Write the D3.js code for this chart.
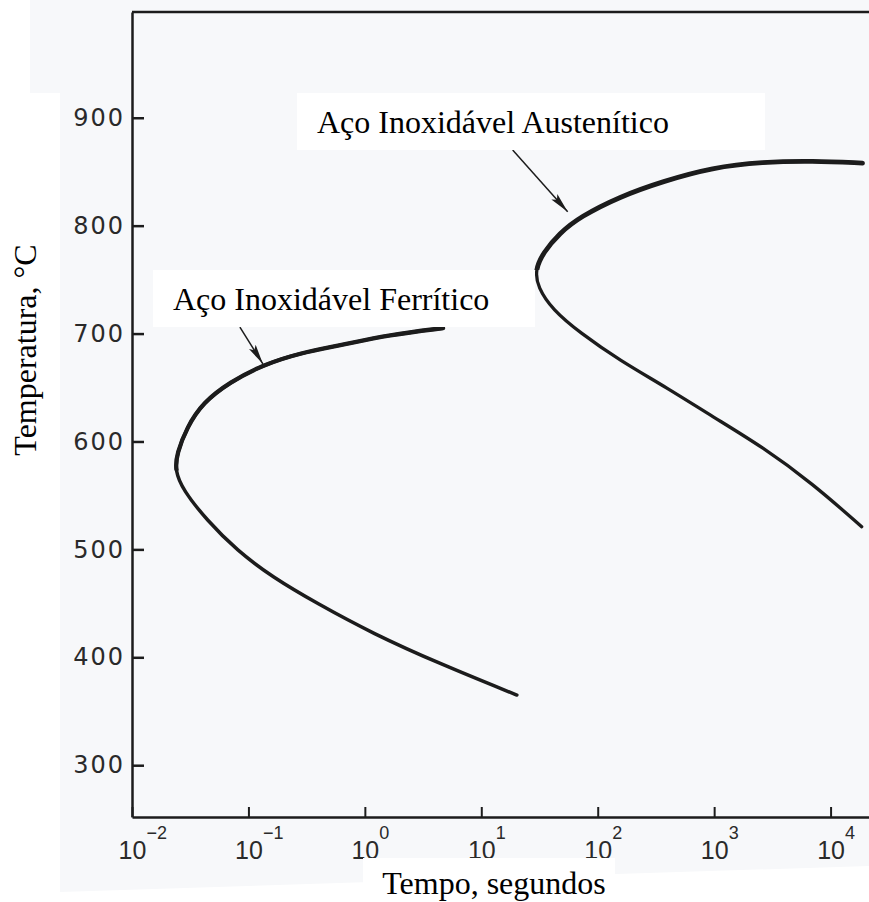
<!DOCTYPE html>
<html>
<head>
<meta charset="utf-8">
<script src="https://cdn.jsdelivr.net/npm/d3@7"></script>
<style>
  body { margin: 0; background: #fff; }
  svg { display: block; }
</style>
</head>
<body>
<svg id="chart" width="869" height="902"></svg>
<script>
// ferritic stainless steel C-curve (time s, temperature C)
const ferriticTime = [4.7, 1.64, 0.61, 0.277, 0.133, 0.0693, 0.0406, 0.0296, 0.0243, 0.0234,
  0.0274, 0.044, 0.0796, 0.162, 0.387, 1.17, 4.4, 20.2]
const ferriticTemp = [705, 699, 689, 682, 671, 655, 636, 613, 589, 573,
  555, 527, 499, 474, 450, 422, 394, 365]

// austenitic stainless steel C-curve
const austeniticTime = [18800, 7000, 2600, 970, 360, 155, 70, 47, 34, 29,
  30.5, 41, 70, 155, 390, 970, 2600, 7000, 18500]
const austeniticTemp = [858, 860, 859, 854, 841, 827, 808, 793, 775, 759,
  743, 722, 701, 675, 650, 623, 595, 561, 521]

const yTicks = [300, 400, 500, 600, 700, 800, 900]
const xTicks = [1e-2, 1e-1, 1e0, 1e1, 1e2, 1e3, 1e4]
const xExponents = ["\u22122", "\u22121", "0", "1", "2", "3", "4"]

const svg = d3.select("#chart")

// scanned page tint
svg.append("path")
  .attr("d", "M30,0 L869,0 L869,866 L60,892 L60,93 L30,93 Z")
  .attr("fill", "#f7f8fa")

const x = d3.scaleLog()
  .domain([1e-2, Math.pow(10, 4.33)])
  .range([132, 869])

const y = d3.scaleLinear()
  .domain([252, 998])
  .range([817, 12])

const ink = "#1c1c1c"

// frame: left, bottom and top
svg.append("g")
  .attr("transform", `translate(${x(1e-2)},0)`)
  .call(d3.axisLeft(y).tickValues(yTicks).tickSize(-12).tickPadding(7).tickSizeOuter(0))
  .call(g => g.select(".domain").attr("stroke", ink).attr("stroke-width", 2.5))
  .call(g => g.selectAll(".tick line").attr("stroke", ink).attr("stroke-width", 2.5))
  .call(g => g.selectAll(".tick text")
    .attr("font-family", "DejaVu Sans")
    .attr("font-size", 24)
    .attr("letter-spacing", 2)
    .attr("fill", "#2a2a2a"))

const xAxis = svg.append("g")
  .attr("transform", `translate(0,${y(252)})`)
  .call(d3.axisBottom(x).tickValues(xTicks).tickSize(-10).tickFormat("").tickSizeOuter(0))
  .call(g => g.select(".domain").attr("stroke", ink).attr("stroke-width", 2.5))
  .call(g => g.selectAll(".tick line").attr("stroke", ink).attr("stroke-width", 2))

xAxis.selectAll(".tick").each(function(d, i) {
  const t = d3.select(this)
  t.append("text")
    .attr("x", 0).attr("y", 42)
    .attr("text-anchor", "middle")
    .attr("font-family", "Liberation Sans").attr("font-size", 25)
    .attr("fill", "#2a2a2a")
    .text("10")
  t.append("text")
    .attr("x", 14).attr("y", 22)
    .attr("text-anchor", "start")
    .attr("font-family", "Liberation Sans").attr("font-size", 18)
    .attr("fill", "#2a2a2a")
    .text(xExponents[i])
})

svg.append("line")
  .attr("x1", x(1e-2)).attr("x2", 869)
  .attr("y1", y(998)).attr("y2", y(998))
  .attr("stroke", ink).attr("stroke-width", 2.5)

// curves
const line = d3.line()
  .x(d => x(d[0]))
  .y(d => y(d[1]))
  .curve(d3.curveBasis)

const ferritic = ferriticTime.map((t, i) => [t, ferriticTemp[i]])
const austenitic = austeniticTime.map((t, i) => [t, austeniticTemp[i]])
const defs = svg.append("defs")

// the upper branch of each curve is inked heavier than the lower one
function drawCurve(id, pts, noseTemp, upperW, lowerW) {
  defs.append("clipPath").attr("id", id)
    .append("rect")
    .attr("x", 0).attr("y", 0)
    .attr("width", 869).attr("height", y(noseTemp))
  svg.append("path").datum(pts)
    .attr("d", line)
    .attr("fill", "none").attr("stroke", ink)
    .attr("stroke-width", lowerW).attr("stroke-linecap", "round")
  svg.append("path").datum(pts)
    .attr("d", line)
    .attr("clip-path", `url(#${id})`)
    .attr("fill", "none").attr("stroke", ink)
    .attr("stroke-width", upperW).attr("stroke-linecap", "round")
}
drawCurve("clipF", ferritic, 573, 4.3, 3.5)
drawCurve("clipA", austenitic, 759, 4.8, 3.3)

// arrow marker
defs.append("marker")
  .attr("id", "head")
  .attr("viewBox", "0 0 20 8")
  .attr("refX", 20).attr("refY", 4)
  .attr("markerWidth", 20).attr("markerHeight", 8)
  .attr("markerUnits", "userSpaceOnUse")
  .attr("orient", "auto")
  .append("path")
  .attr("d", "M0,0 L20,4 L0,8 L4,4 Z")
  .attr("fill", ink)

// annotation label boxes
const notes = [
  {text: "Aço Inoxidável Austenítico", box: [297, 93, 468, 57], tx: 317, ty: 133,
    from: [18.6, 870], to: [55.2, 813]},
  {text: "Aço Inoxidável Ferrítico", box: [153, 270, 382, 57], tx: 173, ty: 310,
    from: [0.0845, 706], to: [0.133, 672]}
]

notes.forEach(n => {
  svg.append("line")
    .attr("x1", x(n.from[0])).attr("y1", y(n.from[1]))
    .attr("x2", x(n.to[0])).attr("y2", y(n.to[1]))
    .attr("stroke", ink).attr("stroke-width", 1.5)
    .attr("marker-end", "url(#head)")
  svg.append("rect")
    .attr("x", n.box[0]).attr("y", n.box[1])
    .attr("width", n.box[2]).attr("height", n.box[3])
    .attr("fill", "#fff")
  svg.append("text")
    .attr("x", n.tx).attr("y", n.ty)
    .attr("font-family", "Liberation Serif, Times New Roman, serif")
    .attr("font-size", 32)
    .attr("fill", "#000")
    .text(n.text)
})

// axis titles
svg.append("rect")
  .attr("x", 363).attr("y", 858).attr("width", 252).attr("height", 44)
  .attr("fill", "#fff")

svg.append("text")
  .attr("x", 494).attr("y", 894)
  .attr("text-anchor", "middle")
  .attr("font-family", "Liberation Serif, Times New Roman, serif")
  .attr("font-size", 32)
  .text("Tempo, segundos")

svg.append("text")
  .attr("transform", "translate(36,350) rotate(-90)")
  .attr("text-anchor", "middle")
  .attr("font-family", "Liberation Serif, Times New Roman, serif")
  .attr("font-size", 32)
  .text("Temperatura, \u00b0C")
</script>
</body>
</html>
